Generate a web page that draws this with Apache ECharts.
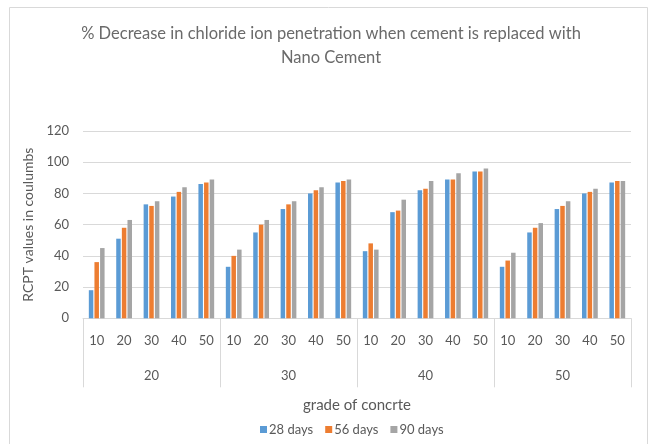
<!DOCTYPE html>
<html><head><meta charset="utf-8">
<script src="https://cdn.jsdelivr.net/npm/echarts@6/dist/echarts.min.js"></script>
<style>html,body{margin:0;padding:0;background:#fff}#c{width:649px;height:444px}</style>
</head><body><div id="c"></div>
<script>
const outerGroups = ['20','30','40','50'];
const innerLabels = ['10','20','30','40','50'];
const seriesNames = ['28 days','56 days','90 days'];
const days28 = [18,51,73,78,86, 33,55,70,80,87, 43,68,82,89,94, 33,55,70,80,87];
const days56 = [36,58,72,81,87, 40,60,73,82,88, 48,69,83,89,94, 37,58,72,81,88];
const days90 = [45,63,75,84,89, 44,63,75,84,89, 44,76,88,93,96, 42,61,75,83,88];
const yTicks = {min:0, max:120, interval:20};

const cats = [];
outerGroups.forEach(g => innerLabels.forEach(l => cats.push(g + '-' + l)));
const colors = ['#5B9BD5','#ED7D31','#A5A5A5'];
const font = 'Lato, "Open Sans", sans-serif';
const txt = '#595959';
const chart = echarts.init(document.getElementById('c'));
const dataArr = [days28, days56, days90];
chart.setOption({
  animation:false,
  color: colors,
  textStyle:{fontFamily:font},
  title:{
    text:'% Decrease in chloride ion penetration when cement is replaced with\nNano Cement',
    left:326, textAlign:'center', top:17,
    textStyle:{fontSize:16.5, fontWeight:'normal', color:'#6a6a6a', lineHeight:24, fontFamily:font}
  },
  graphic:[{type:'rect', shape:{x:9.5,y:7.5,width:638,height:440}, style:{fill:null, stroke:'#d9d9d9', lineWidth:1}, silent:true}],
  legend:{
    data: seriesNames, left:255, top:418, itemWidth:7, itemHeight:7, itemGap:12, icon:'rect',
    textStyle:{fontSize:13, color:txt, padding:[0,0,0,-3]}
  },
  grid:{left:83, right:18, top:131, bottom:125.7, containLabel:false},
  xAxis:[
    {type:'category', data:cats, position:'bottom',
     axisLine:{show:true, lineStyle:{color:'#d9d9d9'}},
     axisTick:{show:false},
     axisLabel:{interval:0, margin:16, fontSize:13, color:txt, formatter:v=>v.split('-')[1]},
     name:'grade of concrte', nameLocation:'middle', nameGap:79,
     nameTextStyle:{fontSize:15, color:txt}
    },
    {type:'category', data:outerGroups, position:'bottom', offset:0,
     axisLine:{show:false},
     axisTick:{show:true, length:69, lineStyle:{color:'#d9d9d9'}},
     axisLabel:{interval:0, margin:51, fontSize:13, color:txt}
    }
  ],
  yAxis:{type:'value', min:yTicks.min, max:yTicks.max, interval:yTicks.interval,
    axisLine:{show:false}, axisTick:{show:false},
    splitLine:{lineStyle:{color:'#d9d9d9'}},
    axisLabel:{fontSize:13, color:txt, margin:14},
    name:'RCPT values in coulumbs', nameLocation:'middle', nameRotate:90, nameGap:41,
    nameTextStyle:{fontSize:14, color:txt}
  },
  series: seriesNames.map((n,i)=>({
    name:n, type:'bar', xAxisIndex:0, data:dataArr[i], barWidth:4.5, barGap:'25%',
    itemStyle:{color:colors[i]}
  }))
});
</script></body></html>
